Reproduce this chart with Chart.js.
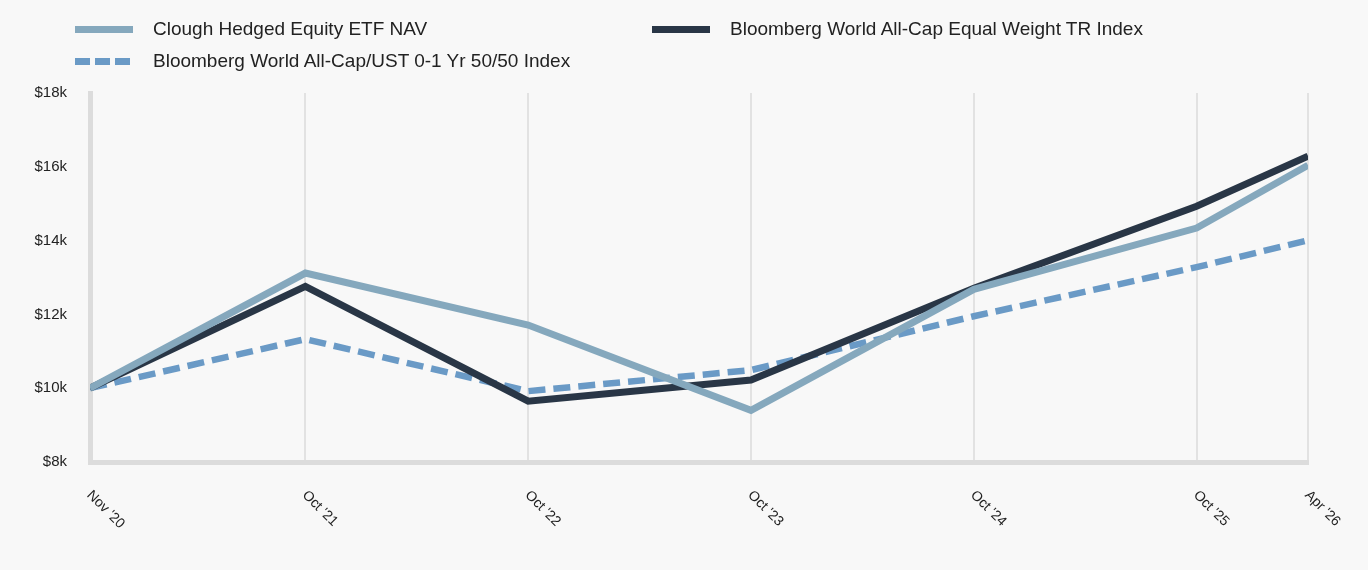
<!DOCTYPE html>
<html lang="en">
<head>
    <meta charset="UTF-8">
    <title>Growth of $10,000</title>
    <style>
        html, body {
            margin: 0;
            padding: 0;
            background: #f8f8f8;
        }
        #wrap {
            position: relative;
            width: 1368px;
            height: 570px;
            font-family: "Liberation Sans", Arial, sans-serif;
            color: #222;
        }
        #chart {
            position: absolute;
            left: 0;
            top: 0;
        }
        .legend-item {
            position: absolute;
            display: flex;
            align-items: center;
            font-size: 19px;
            white-space: nowrap;
        }
        .swatch {
            width: 58px;
            height: 7px;
            margin-right: 20px;
        }
    </style>
</head>
<body>
    <div id="wrap">
        <canvas id="chart" width="1368" height="570"></canvas>
        <div id="legend"></div>
    </div>

    <script src="https://cdn.jsdelivr.net/npm/chart.js"></script>
    <script>
        // x positions in months from inception, and their labels
        const xMonths = [0, 11.6, 23.6, 35.6, 47.6, 59.6, 65.6];
        const xLabels = ["Nov '20", "Oct '21", "Oct '22", "Oct '23", "Oct '24", "Oct '25", "Apr '26"];

        const cloughNav = [10000, 13120, 11710, 9400, 12680, 14340, 16040];
        const bbgEqualWeight = [10000, 12760, 9650, 10220, 12710, 14930, 16290];
        const bbg5050 = [10000, 11330, 9920, 10490, 11950, 13280, 14010];

        const seriesNames = [
            'Clough Hedged Equity ETF NAV',
            'Bloomberg World All-Cap Equal Weight TR Index',
            'Bloomberg World All-Cap/UST 0-1 Yr 50/50 Index'
        ];
        const seriesColors = ['#85a8bd', '#293646', '#6a9ac6'];

        function toPoints(vals) {
            return vals.map((v, i) => ({ x: xMonths[i], y: v }));
        }

        // legend (html, two columns)
        const legendPos = [
            { left: 75, top: 29 },
            { left: 652, top: 29 },
            { left: 75, top: 61 }
        ];
        const legend = document.getElementById('legend');
        seriesNames.forEach((name, i) => {
            const item = document.createElement('div');
            item.className = 'legend-item';
            item.style.left = legendPos[i].left + 'px';
            item.style.top = (legendPos[i].top - 11) + 'px';
            const sw = document.createElement('div');
            sw.className = 'swatch';
            if (i === 2) {
                sw.style.background = 'repeating-linear-gradient(90deg, ' + seriesColors[i] + ' 0 15px, transparent 15px 20px)';
            } else {
                sw.style.background = seriesColors[i];
            }
            const label = document.createElement('span');
            label.textContent = name;
            item.appendChild(sw);
            item.appendChild(label);
            legend.appendChild(item);
        });

        // rotated x labels, drawn clockwise from each tick
        const slantLabels = {
            id: 'slantLabels',
            afterDraw(chart) {
                const ctx = chart.ctx;
                const xs = chart.scales.x;
                const y0 = chart.chartArea.bottom + 26;
                ctx.save();
                ctx.font = '14px "Liberation Sans", Arial, sans-serif';
                ctx.fillStyle = '#222';
                ctx.textAlign = 'left';
                ctx.textBaseline = 'top';
                xMonths.forEach((m, i) => {
                    const px = xs.getPixelForValue(m);
                    ctx.save();
                    ctx.translate(px + 4, y0);
                    ctx.rotate(Math.PI / 4);
                    ctx.fillText(xLabels[i], 0, 0);
                    ctx.restore();
                });
                ctx.restore();
            }
        };

        new Chart(document.getElementById('chart'), {
            type: 'line',
            data: {
                datasets: [
                    {
                        label: seriesNames[0],
                        data: toPoints(cloughNav),
                        borderColor: seriesColors[0],
                        borderWidth: 7,
                        pointRadius: 0,
                        tension: 0
                    },
                    {
                        label: seriesNames[1],
                        data: toPoints(bbgEqualWeight),
                        borderColor: seriesColors[1],
                        borderWidth: 7,
                        pointRadius: 0,
                        tension: 0
                    },
                    {
                        label: seriesNames[2],
                        data: toPoints(bbg5050),
                        borderColor: seriesColors[2],
                        borderWidth: 6.5,
                        borderDash: [17, 8],
                        pointRadius: 0,
                        tension: 0
                    }
                ]
            },
            options: {
                responsive: false,
                animation: false,
                layout: {
                    padding: { top: 93, right: 60, bottom: 108, left: 30 }
                },
                plugins: {
                    legend: { display: false },
                    tooltip: { enabled: false }
                },
                scales: {
                    x: {
                        type: 'linear',
                        min: 0,
                        max: 65.6,
                        afterBuildTicks: (scale) => {
                            scale.ticks = xMonths.map(v => ({ value: v }));
                        },
                        ticks: { display: false },
                        grid: {
                            color: '#e2e2e2',
                            lineWidth: 2,
                            drawTicks: false
                        },
                        border: { color: '#dcdcdc', width: 5 }
                    },
                    y: {
                        min: 8000,
                        max: 18000,
                        afterFit: (scale) => { scale.width = 60; },
                        ticks: {
                            stepSize: 2000,
                            padding: 23,
                            color: '#222',
                            font: { family: '"Liberation Sans", Arial, sans-serif', size: 15 },
                            callback: (v) => '$' + (v / 1000) + 'k'
                        },
                        grid: { display: false, drawTicks: false },
                        border: { color: '#dcdcdc', width: 5 }
                    }
                }
            },
            plugins: [slantLabels]
        });
    </script>
</body>
</html>
